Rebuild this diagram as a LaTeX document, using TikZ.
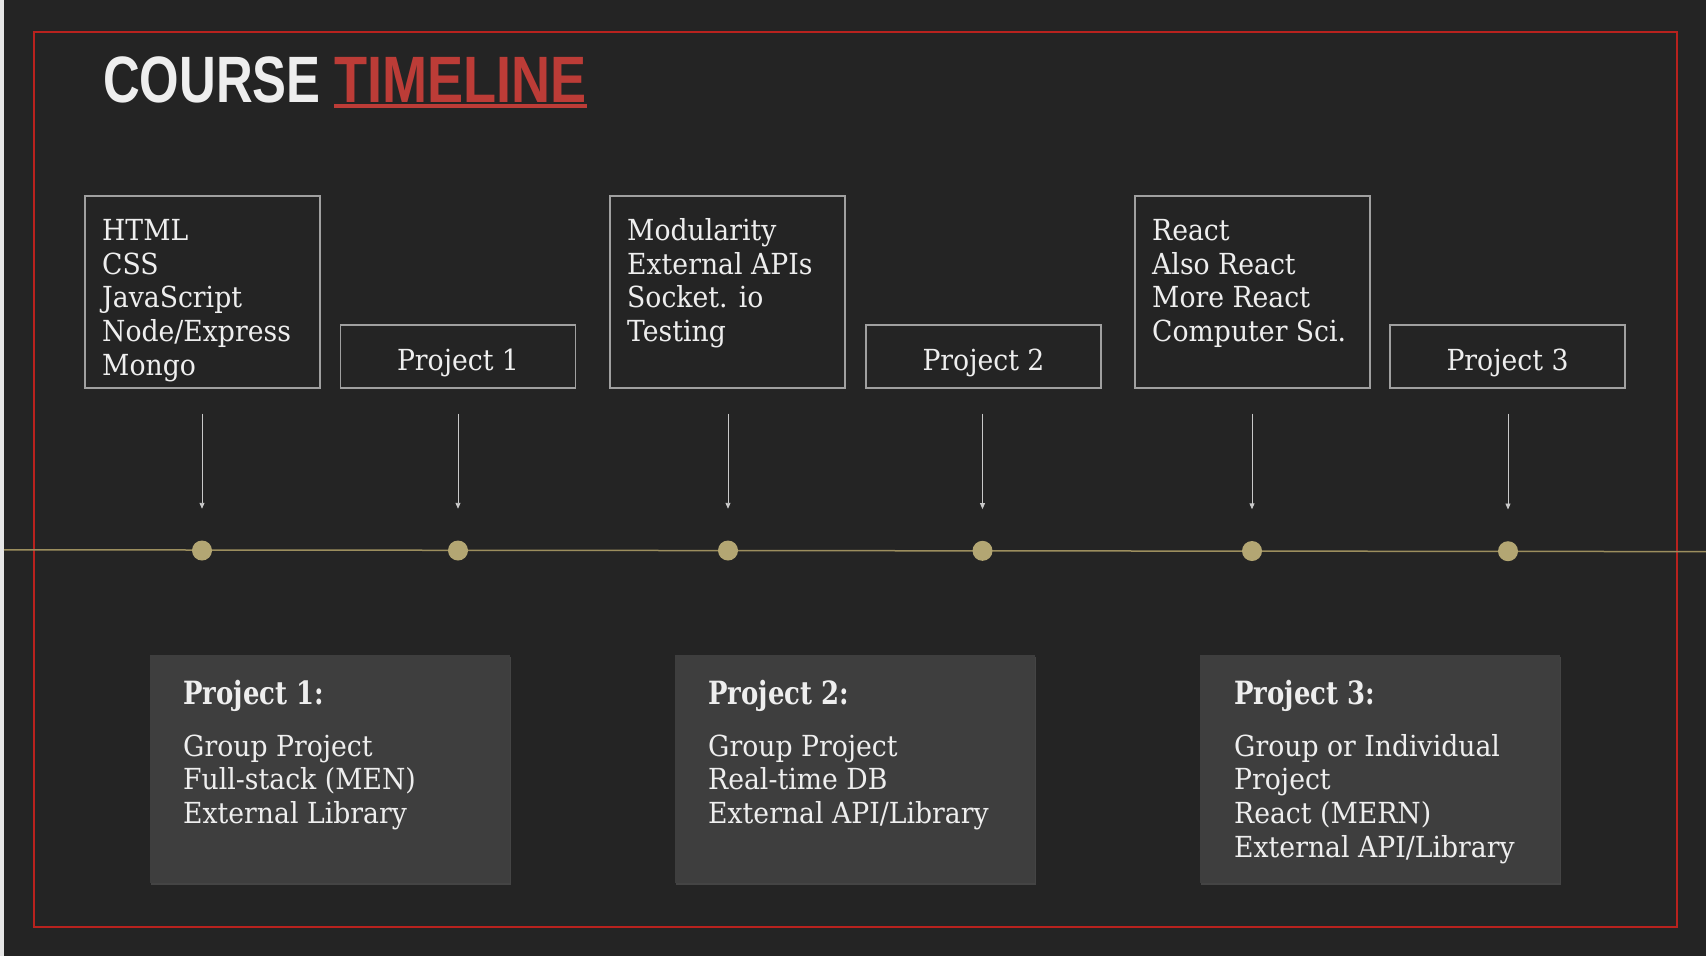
\documentclass[tikz,border=0pt]{standalone}
\usepackage{fontspec}
\setmainfont{DejaVu Serif}[FakeStretch=0.92]
\newfontfamily\cardfont{DejaVu Serif}[FakeStretch=0.81]
\newfontfamily\titlefontA{Liberation Sans}[FakeStretch=0.775]
\newfontfamily\titlefontB{Liberation Sans}[FakeStretch=0.825]
\usetikzlibrary{arrows.meta,shadows,calc}
\definecolor{bg}{HTML}{242424}
\definecolor{framec}{HTML}{B8221E}
\definecolor{tred}{HTML}{BC3C37}
\definecolor{txt}{HTML}{EEEEEE}
\definecolor{boxline}{HTML}{A0A0A0}
\definecolor{arrowc}{HTML}{C8C8C8}
\definecolor{gold}{HTML}{B3A673}
\definecolor{goldline}{HTML}{9C8E5E}
\definecolor{card}{HTML}{3E3E3E}
\definecolor{strip}{HTML}{E6E6E6}
\begin{document}
\begin{tikzpicture}[x=1pt,y=-1pt,
  bodyfont/.style={font=\fontsize{29}{33.7}\selectfont},
  topbox/.style={draw=boxline, line width=1.2pt, inner sep=0pt, minimum width=235pt, fill=bg},
  bigbox/.style={topbox, minimum height=192pt},
  projbox/.style={topbox, minimum height=63pt, text=txt, bodyfont, text height=27pt, text depth=0pt},
  listtext/.style={anchor=base west, inner sep=0pt, text=txt, bodyfont},
  dot/.style={circle, fill=gold, inner sep=0pt, minimum size=20pt},
  arr/.style={draw=arrowc, line width=0.9pt, -{Triangle[width=5pt,length=6pt]}, shorten <=25pt, shorten >=31.5pt},
  cardbox/.style={fill=card, inner sep=0pt, minimum width=360pt, minimum height=228.5pt,
    drop shadow={shadow xshift=1pt, shadow yshift=-2pt, opacity=0.35}},
  cardtitle/.style={anchor=base west, inner sep=0pt, text=txt, font=\cardfont\fontsize{32}{36}\selectfont\bfseries},
  titleA/.style={anchor=base west, inner sep=0pt, font=\titlefontA\fontsize{65.6}{70}\selectfont\bfseries},
  titleB/.style={anchor=base west, inner sep=0pt, font=\titlefontB\fontsize{65.6}{70}\selectfont\bfseries},
]
\useasboundingbox (0,0) rectangle (1706,956);
\fill[bg] (0,0) rectangle (1706,956);
\fill[strip] (0,0) rectangle (4,956);
\draw[framec, line width=2pt] (33.7,31.5) rectangle (1676.6,927);

% title
\node[titleA, text=txt] (tc) at (103,102) {COURSE};
\node[titleB, text=tred] (tt) at (334,102) {TIMELINE};
\fill[tred] ($(tt.base west)+(0,1.5)$) rectangle ($(tt.base east)+(0,6)$);

% timeline
\coordinate (tlL) at (4,549.8);
\coordinate (tlR) at (1706,551.6);
\draw[goldline, line width=1.5pt] (tlL) -- (tlR);

% top boxes
\node[bigbox] (b1) at (202.5,292) {};
\node[projbox] (p1) at (458,356.5) {Project 1};
\node[bigbox] (b3) at (727.5,292) {};
\node[projbox] (p2) at (983.5,356.5) {Project 2};
\node[bigbox] (b5) at (1252.5,292) {};
\node[projbox] (p3) at (1507.5,356.5) {Project 3};

\node[listtext] (t1) at (102,240.5) {\parbox[t]{220pt}{\raggedright HTML\\CSS\\JavaScript\\Node/Express\\Mongo}};
\node[listtext] (t3) at (627,240.5) {\parbox[t]{220pt}{\raggedright Modularity\\External APIs\\Socket. io\\Testing}};
\node[listtext] (t5) at (1152,240.5) {\parbox[t]{220pt}{\raggedright React\\Also React\\More React\\Computer Sci.}};

% dots
\node[dot] (d1) at (202,550.5) {};
\node[dot] (d2) at (458,550.5) {};
\node[dot] (d3) at (728,550.5) {};
\node[dot] (d4) at (982.5,550.8) {};
\node[dot] (d5) at (1252,551) {};
\node[dot] (d6) at (1508,551.2) {};

% arrows
\draw[arr] (b1.south -| d1) -- (d1.north);
\draw[arr] (p1.south -| d2) -- (d2.north);
\draw[arr] (b3.south -| d3) -- (d3.north);
\draw[arr] (p2.south -| d4) -- (d4.north);
\draw[arr] (b5.south -| d5) -- (d5.north);
\draw[arr] (p3.south -| d6) -- (d6.north);

% cards
\node[cardbox] (c1) at (330,769) {};
\node[cardbox] (c2) at (854.6,769) {};
\node[cardbox] (c3) at (1380,769) {};

\node[cardtitle] (c1t) at (183,704) {Project 1:};
\node[cardtitle] (c2t) at (708,704) {Project 2:};
\node[cardtitle] (c3t) at (1234,704) {Project 3:};

\node[listtext] (c1l) at (183,756) {\parbox[t]{320pt}{\raggedright Group Project\\Full-stack (MEN)\\External Library}};
\node[listtext] (c2l) at (708,756) {\parbox[t]{320pt}{\raggedright Group Project\\Real-time DB\\External API/Library}};
\node[listtext] (c3l) at (1234,756) {\parbox[t]{320pt}{\raggedright Group or Individual\\Project\\React (MERN)\\External API/Library}};
\end{tikzpicture}
\end{document}
